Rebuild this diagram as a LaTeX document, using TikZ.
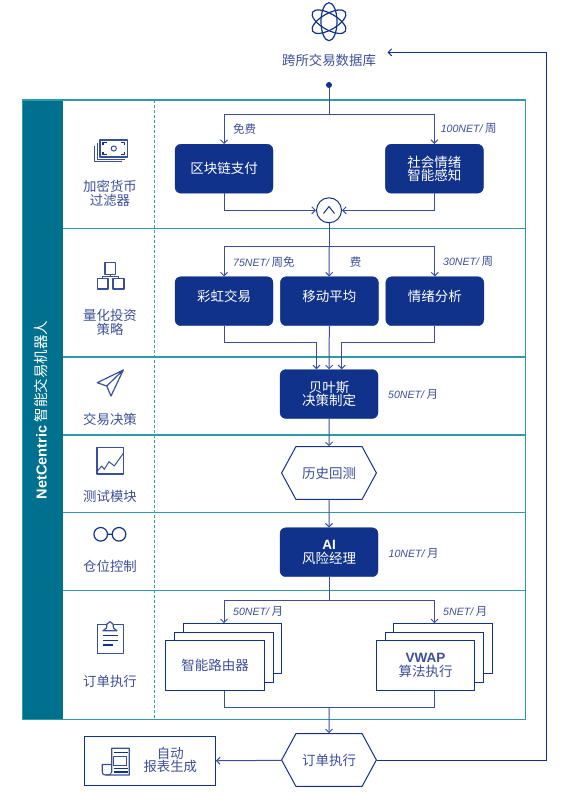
\documentclass[tikz,border=0pt]{standalone}
\usepackage{fontspec}
\usepackage{tikz}
\usetikzlibrary{arrows.meta,positioning,shapes.symbols}
\setmainfont{Noto Sans CJK SC}
\newfontfamily\latinf{Liberation Sans}
\definecolor{navy}{HTML}{10328A}
\definecolor{wire}{HTML}{3A4F9C}
\definecolor{ink}{HTML}{3D4F96}
\definecolor{band}{HTML}{00708F}
\definecolor{rowline}{HTML}{2F9AA8}
\tikzset{
  flow/.style={draw=wire, line width=1pt},
  icon/.style={draw=wire, line width=1pt, line join=round},
  block/.style={fill=navy, draw=navy, rounded corners=6pt, text=white, minimum width=98pt, minimum height=49pt,
    inner sep=0pt, align=center, font=\fontsize{13.5}{12.6}\selectfont},
  raised/.style={text height=10pt, text depth=10pt},
  hexa/.style={signal, signal to=east and west, signal pointer angle=123, draw=navy, fill=white, line width=1pt,
    minimum width=94.8pt, minimum height=52.6pt, inner sep=0pt, text=ink, font=\fontsize{13.5}{14}\selectfont},
  sheet/.style={rectangle, draw=navy, fill=white, line width=1pt, minimum width=98.5pt, minimum height=50pt,
    inner sep=0pt, align=center, text=ink, font=\fontsize{13.5}{12.6}\selectfont},
  side/.style={text=ink, align=center, inner sep=0pt, font=\fontsize{13.4}{14}\selectfont},
  price/.style={text=ink, anchor=west, inner sep=0pt, font=\fontsize{11.5}{13}\selectfont},
}
\newcommand{\net}[1]{{\latinf\itshape\fontsize{10.6}{13}\selectfont #1NET/} }
\begin{document}
\begin{tikzpicture}[x=1pt, y=-1pt, >={Straight Barb[length=3.5pt,width=7pt]}]
\useasboundingbox (0,0) rectangle (574,792);
% frame and rows
\fill[band] (22.3,100) rectangle (63,719.3);
\draw[rowline, line width=1.2pt] (22.3,100) rectangle (525.5,719.3);
\foreach \yy in {228.5,357,435,512.7,590.3}
  \draw[rowline, line width=1.2pt] (63,\yy) -- (525.5,\yy);
\draw[rowline, line width=1pt, densely dashed] (154,100) -- (154,719.3);
\node[rotate=90, text=white, inner sep=0pt, font=\fontsize{14.5}{15}\selectfont] (title) at (41,410)
  {{\latinf\bfseries NetCentric} 智能交易机器人};
% source
\draw[icon, line width=1.2pt, navy] (329,21.7) ellipse [x radius=8pt, y radius=19pt];
\draw[icon, line width=1.2pt, navy, rotate around={60:(329,21.7)}] (329,21.7) ellipse [x radius=8pt, y radius=19pt];
\draw[icon, line width=1.2pt, navy, rotate around={-60:(329,21.7)}] (329,21.7) ellipse [x radius=8pt, y radius=19pt];
\node[side] (db) at (329,60) {跨所交易数据库};
\node[circle, fill=navy, minimum size=6pt, inner sep=0pt] (src) at (329,85) {};
% row 1
\node[block] (pay) at (224,168.7) {区块链支付};
\node[block, right=112pt of pay] (soc) {\raisebox{-1.5pt}{社会情绪}\\\raisebox{-1.5pt}{智能感知}};
\node[circle, draw=navy, fill=white, line width=1pt, minimum size=25pt, inner sep=0pt] (merge) at (329,210.3) {};
\draw[icon, navy] (323.5,213.5) -- (329,206.5) -- (334.5,213.5);
% row 2
\node[block, raised] (rain) at (224,301.2) {彩虹交易};
\node[block, raised, right=7pt of rain] (ma) {移动平均};
\node[block, raised, right=7pt of ma] (sent) {情绪分析};
% row 3 to 5
\node[block] (bayes) at (329,394) {贝叶斯\\决策制定};
\node[hexa] (back) at (329,473) {历史回测};
\node[block] (risk) at (329,552.2) {{\latinf\bfseries AI}\\[1.5pt]风险经理};
% row 6
\node[sheet] (route3) at (232.7,648.7) {};
\node[sheet] (route2) at (224,657.2) {};
\node[sheet] (route) at (215.2,665.8) {智能路由器};
\node[sheet] (vwap3) at (443,648.7) {};
\node[sheet] (vwap2) at (434.5,657.2) {};
\node[sheet] (vwap) at (425.5,665.8) {{\latinf\bfseries VWAP}\\[1.5pt]算法执行};
% bottom
\node[hexa] (exec) at (329,760) {订单执行};
\node[rectangle, draw=navy, line width=1pt, minimum width=130.8pt, minimum height=49pt, inner sep=0pt] (rep) at (150,761.2) {};
\node[side, font=\fontsize{13.4}{12.8}\selectfont] (reptext) at (170.3,760.3) {自动\\报表生成};
% connectors
\coordinate (split1) at (329,114.7);
\coordinate (split2) at (329,246);
\coordinate (in1) at (316.5,342.7);
\coordinate (in3) at (341.7,342.7);
\coordinate (split3) at (329,600.3);
\coordinate (join) at (329,707);
\coordinate (loop) at (546,52.3);
\coordinate (dbin) at (387.5,52.3);
\draw[flow] (src) -- (split1);
\draw[flow, ->] (split1) -| (pay);
\draw[flow, ->] (split1) -| (soc);
\draw[flow, ->] (pay) |- (merge);
\draw[flow, ->] (soc) |- (merge);
\draw[flow] (merge) -- (split2);
\draw[flow, ->] (split2) -| (rain);
\draw[flow, ->] (split2) -- (ma);
\draw[flow, ->] (split2) -| (sent);
\draw[flow, ->] (rain) |- (in1) -- (in1 |- bayes.north);
\draw[flow, ->] (ma) -- (bayes);
\draw[flow, ->] (sent) |- (in3) -- (in3 |- bayes.north);
\draw[flow, ->] (bayes) -- (back);
\draw[flow, ->] (back) -- (risk);
\draw[flow] (risk) -- (split3);
\draw[flow, ->] (split3) -| (route2 |- route3.north);
\draw[flow, ->] (split3) -| (vwap2 |- vwap3.north);
\draw[flow] (route2 |- route.south) |- (join);
\draw[flow] (vwap2 |- vwap.south) |- (join);
\draw[flow, ->] (join) -- (exec);
\draw[flow, ->] (exec) -- (rep);
\draw[flow, draw=navy, ->] (exec) -| (loop) -- (dbin);
% prices
\node[price] (p1) at (233,128.7) {免费};
\node[price] (p2) at (440.6,128.7) {\net{100}周};
\node[price] (p3) at (233,261.7) {\net{75}周免};
\node[text=ink, inner sep=0pt, font=\fontsize{11.5}{13}\selectfont] (p4) at (355.7,261.7) {费};
\node[price] (p5) at (443,261.7) {\net{30}周};
\node[price] (p6) at (388,394.3) {\net{50}月};
\node[price] (p7) at (388.5,553.3) {\net{10}月};
\node[price] (p8) at (233,611.3) {\net{50}月};
\node[price] (p9) at (443,611.3) {\net{5}月};
% row labels
\node[side] (s1) at (110,193) {加密货币\\过滤器};
\node[side] (s2) at (110,322) {量化投资\\策略};
\node[side] (s3) at (110,419) {交易决策};
\node[side] (s4) at (110,496.7) {测试模块};
\node[side] (s5) at (110,566) {仓位控制};
\node[side] (s6) at (110,681) {订单执行};
% row icons
\draw[icon] (94.8,145.5) -- (94.8,161.5) -- (122,161.5);
\draw[icon] (97.4,142.8) -- (97.4,159.2) -- (124.8,159.2);
\draw[icon, line width=1.2pt] (100,140) rectangle (127.7,157);
\draw[icon, navy, line width=1.2pt] (103,145) -- (103,142.6) -- (107,142.6) (121,142.6) -- (124.7,142.6) -- (124.7,145)
  (103,152) -- (103,154.4) -- (107,154.4) (121,154.4) -- (124.7,154.4) -- (124.7,152);
\draw[icon] (113.8,148.5) circle (2.6pt);
\draw[icon, line width=1.2pt] (105,262.3) rectangle (115.7,274.3) (97.5,278.3) rectangle (108,289) (113,278.3) rectangle (124,289);
\draw[icon] (110.3,274.3) -- (110.3,276.3) (102.7,278.3) -- (102.7,276.3) -- (118.5,276.3) -- (118.5,278.3);
\draw[icon, line width=1.2pt] (123.3,370) -- (97.3,382.7) -- (106.7,386) -- (111,396) -- cycle (123.3,370) -- (106.7,386);
\draw[icon, line width=1.2pt] (97,447.3) rectangle (123.5,474);
\draw[icon] (97.7,470.7) -- (101.7,466) -- (104.3,469.3) -- (109,461.7) -- (114.3,466) -- (123.3,453.3);
\draw[icon, navy, line width=1.2pt] (100.7,534.3) circle (6.8pt) (119,534.3) circle (6.8pt) (107.5,534.3) -- (112.2,534.3);
\draw[icon, line width=1.2pt] (97.3,624.3) rectangle (123.3,653.3);
\draw[icon, fill=white, line width=1.2pt] (103,630.7) -- (106.5,628) -- (107,624) -- (110,621.7) -- (113,624) -- (113.5,628) -- (117,630.7) -- cycle;
\draw[navy, line width=1.5pt] (102.5,635.7) -- (117.5,635.7) (102.5,640.5) -- (117.5,640.5) (102.5,645.2) -- (113,645.2);
\draw[icon, line width=1.2pt] (111.7,772) -- (111.7,748.3) -- (129.3,748.3) -- (129.3,775) -- (106,775)
  .. controls (102.5,775) and (102.2,773) .. (102.2,771) -- (102.2,764.5) -- (111.7,764.5);
\draw[icon] (106,775) .. controls (109,775) and (111.7,775) .. (111.7,772);
\draw[icon] (113.8,756) rectangle (126.5,765);
\draw[navy, line width=1.5pt] (113.5,752.5) -- (127.5,752.5) (113.5,768.4) -- (127.5,768.4) (113.5,772) -- (127.5,772);
\end{tikzpicture}
\end{document}
